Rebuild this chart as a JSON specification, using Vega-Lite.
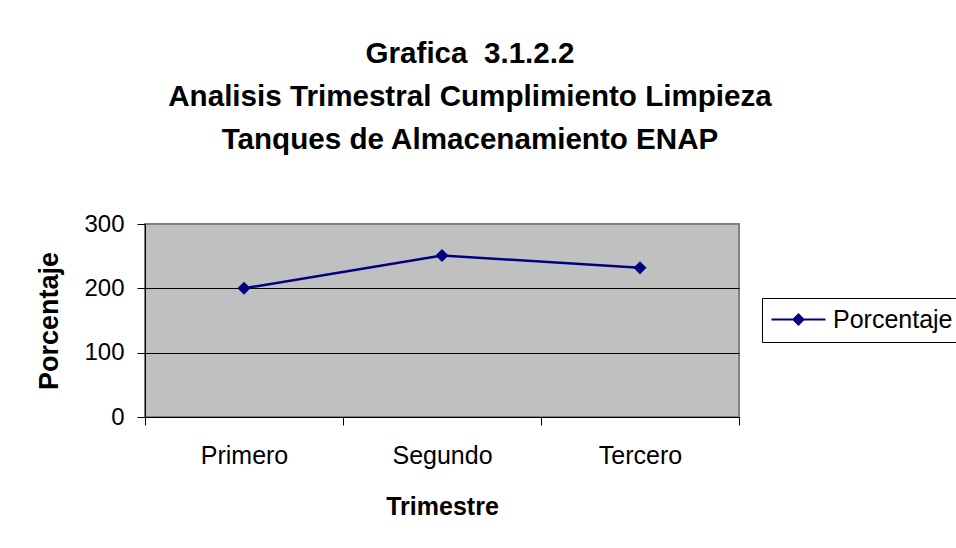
{
  "$schema": "https://vega.github.io/schema/vega-lite/v6.json",
  "width": 594,
  "height": 193,
  "autosize": {"type": "none"},
  "padding": {"left": 145, "top": 224, "right": 217, "bottom": 131},
  "background": "white",
  "title": {
    "text": ["Grafica\u00a0 3.1.2.2", "Analisis Trimestral Cumplimiento Limpieza", "Tanques de Almacenamiento ENAP"],
    "anchor": "middle",
    "frame": "group",
    "dx": 28,
    "offset": 27,
    "baseline": "bottom",
    "lineHeight": 43,
    "font": "Liberation Sans",
    "fontSize": 29.6,
    "fontWeight": "bold",
    "color": "black"
  },
  "data": {
    "values": [
      {"trimestre": "Primero", "porcentaje": 200, "serie": "Porcentaje"},
      {"trimestre": "Segundo", "porcentaje": 251, "serie": "Porcentaje"},
      {"trimestre": "Tercero", "porcentaje": 232, "serie": "Porcentaje"}
    ]
  },
  "mark": {
    "type": "line",
    "strokeWidth": 2.5,
    "point": {"shape": "diamond", "size": 170, "filled": true, "opacity": 1}
  },
  "encoding": {
    "x": {
      "field": "trimestre",
      "type": "nominal",
      "sort": ["Primero", "Segundo", "Tercero"],
      "scale": {"type": "band", "paddingInner": 0, "paddingOuter": 0},
      "axis": {
        "title": "Trimestre",
        "labelAngle": 0,
        "tickBand": "extent",
        "tickSize": 8,
        "tickColor": "black",
        "domainColor": "black",
        "labelPadding": 18,
        "labelFontSize": 25,
        "titleFontSize": 25,
        "titlePadding": 26,
        "grid": false
      }
    },
    "y": {
      "field": "porcentaje",
      "type": "quantitative",
      "scale": {"domain": [0, 300], "nice": false},
      "axis": {
        "title": "Porcentaje",
        "values": [0, 100, 200, 300],
        "tickSize": 8,
        "tickColor": "black",
        "domainColor": "black",
        "labelPadding": 13,
        "labelFontSize": 24,
        "titleFontSize": 27,
        "titlePadding": 20,
        "grid": true,
        "gridColor": {"condition": {"test": "datum.value === 300", "value": "#808080"}, "value": "black"},
        "gridOpacity": 1,
        "gridWidth": 1
      }
    },
    "color": {
      "field": "serie",
      "type": "nominal",
      "scale": {"range": ["#000080"]},
      "legend": {
        "title": null,
        "orient": "none",
        "legendX": 617,
        "legendY": 74,
        "strokeColor": "black",
        "fillColor": "white",
        "padding": 9,
        "symbolType": "M-5.4,0H5.4M-1,0L0,-1L1,0L0,1Z",
        "symbolSize": 100,
        "symbolStrokeWidth": 2,
        "symbolFillColor": "#000080",
        "symbolStrokeColor": "#000080",
        "symbolOffset": 15,
        "labelOffset": 22,
        "labelFontSize": 25,
        "labelColor": "black",
        "labelLimit": 300
      }
    }
  },
  "config": {
    "font": "Liberation Sans",
    "view": {"fill": "#C0C0C0", "stroke": "#808080", "strokeWidth": 2},
    "axis": {
      "labelColor": "black",
      "titleColor": "black",
      "titleFontWeight": "bold",
      "labelFont": "Liberation Sans",
      "titleFont": "Liberation Sans",
      "domainWidth": 1,
      "tickWidth": 1
    }
  }
}
